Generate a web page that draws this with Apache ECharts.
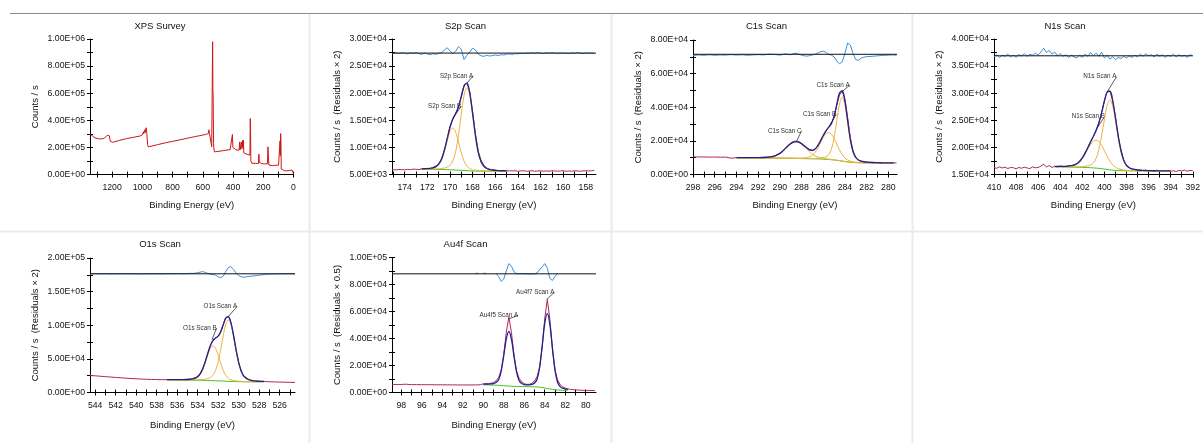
<!DOCTYPE html>
<html><head><meta charset="utf-8">
<script src="https://cdn.jsdelivr.net/npm/echarts@6/dist/echarts.min.js"></script>
<style>html,body{margin:0;padding:0;background:#fff}#c{width:1203px;height:443px}</style>
</head><body><div id="c"></div>
<script>
// ---------------- DATA ----------------
// Survey
const surveyEnergy = [1346,1330,1313,1290,1270,1250,1240,1232,1225,1218,1212,1205,1195,1150,1103,1060,1015,1000,993,990,985,980,975,970,965,960,900,850,794,750,700,650,618,580,563,559,556,545,541,538,535,533,531,529,527,523,500,460,419,408,404,401,396,380,360,356,353,348,345,341,337,335,331,329,310,291,288,286,284,282,276,250,232,229,226,210,190,172,169,166,163,161,140,120,99,92,89,87,85,83,81,77,60,44,25,10,5,2,0];
const surveyCounts = [298000,285000,270000,264000,262000,268000,275000,290000,300000,285000,245000,236000,238000,252000,265000,274000,284000,292000,315000,300000,330000,310000,345000,300000,220000,204000,220000,233000,246000,256000,268000,280000,287000,296000,302000,330000,304000,300000,205000,215000,980000,630000,540000,230000,195000,167000,170000,177000,184000,190000,295000,200000,186000,182000,180000,240000,182000,185000,240000,190000,250000,200000,253000,160000,150000,143000,160000,413000,330000,100000,83000,82000,81000,150000,90000,80000,78000,80000,204000,140000,70000,66000,65000,68000,69000,72000,248000,140000,302000,240000,40000,32000,28000,27000,30000,33000,37000,20000,7000];
const surveyLabelEnergies = [1200,1000,800,600,400,200,0];
const surveyTickEnergies = [1300,1200,1100,1000,900,800,700,600,500,400,300,200,100,0];
const surveyLabelCounts = [0,200000,400000,600000,800000,1000000];
const surveyTickCounts = [0,100000,200000,300000,400000,500000,600000,700000,800000,900000,1000000];

// S2p
const s2pEnergy = [175.1,174.75,174.5,174.25,174,173.75,173.5,173.25,173,172.75,172.5,172.25,172,171.75,171.5,171.25,171,170.75,170.5,170.25,170,169.75,169.5,169.25,169,168.75,168.5,168.25,168,167.75,167.5,167.25,167,166.75,166.5,166.25,166,165.75,165.5,165.25,165,164.75,164.5,164.25,164,163.75,163.5,163.25,163,162.75,162.5,162.25,162,161.75,161.5,161.25,161,160.75,160.5,160.25,160,159.75,159.5,159.25,159,158.75,158.5,158.25,158,157.75,157.5,157.25];
const s2pCounts = [5900,5850,5950,5900,5850,5950,5900,6000,5950,5900,6050,6000,6150,6100,6300,6550,6950,7850,9500,11500,13800,15200,16300,17400,19300,21500,21800,20200,16600,12500,9300,7600,6700,6200,6000,5850,5800,5750,5700,5750,5650,5700,5650,5700,5600,5650,5700,5600,5650,5700,5600,5650,5700,5600,5650,5600,5700,5650,5600,5650,5700,5600,5650,5600,5700,5650,5600,5650,5700,5650,5700,5750];
const s2pResidual = [27300,27450,27350,27500,27400,27250,27450,27350,27500,27300,27150,27400,27250,27100,27300,27150,27350,27500,27900,28400,27800,27300,27700,28600,28100,26200,27000,27600,28300,28000,27200,26900,26800,27000,26850,26950,27050,26950,27100,27050,27200,27250,27150,27300,27250,27350,27300,27400,27350,27450,27350,27500,27400,27300,27450,27350,27500,27400,27300,27450,27350,27400,27300,27450,27350,27500,27400,27300,27450,27350,27400,27300];
const s2pResidualZero = 27400;
const s2pFitEnergy = [172.5,172.25,172,171.75,171.5,171.25,171,170.75,170.5,170.25,170,169.75,169.5,169.25,169,168.75,168.5,168.25,168,167.75,167.5,167.25,167,166.75,166.5,166.25,166,165.75,165.5,165.25,165];
const s2pBackground = [5950,5948,5945,5942,5938,5933,5927,5920,5910,5895,5875,5850,5825,5800,5770,5735,5700,5670,5650,5638,5630,5626,5623,5621,5620,5619,5618,5617,5616,5615,5614];
const s2pPeakA = [5980,5990,5990,6000,6000,6030,6050,6100,6190,6350,6720,7530,9190,12230,16170,19660,21000,19590,16050,12060,9000,7310,6470,6080,5900,5800,5740,5710,5680,5680,5660];
const s2pPeakB = [6000,6010,6040,6080,6170,6360,6770,7610,9140,11130,12880,13550,12830,11040,9000,7430,6550,6090,5880,5780,5720,5690,5670,5650,5640,5640,5630,5630,5630,5630,5630];
const s2pEnvelope = [6030,6060,6080,6140,6230,6450,6900,7800,9420,11590,13720,15230,16200,17460,19410,21350,21850,20020,16290,12200,9090,7370,6510,6110,5920,5830,5760,5720,5690,5690,5680];
const s2pLabelEnergies = [174,172,170,168,166,164,162,160,158];
const s2pTickEnergies = [175,174,173,172,171,170,169,168,167,166,165,164,163,162,161,160,159,158];
const s2pLabelCounts = [5000,10000,15000,20000,25000,30000];
const s2pTickCounts = [5000,7500,10000,12500,15000,17500,20000,22500,25000,27500,30000];

// C1s
const c1sEnergy = [298,297.5,297,296.5,296,295.5,295,294.5,294,293.5,293,292.5,292,291.5,291,290.5,290,289.75,289.5,289.25,289,288.75,288.5,288.25,288,287.75,287.5,287.25,287,286.75,286.5,286.25,286,285.75,285.5,285.25,285,284.75,284.5,284.25,284,283.75,283.5,283.25,283,282.75,282.5,282.25,282,281.5,281,280.5,280,279.5,279.25];
const c1sCounts = [10500,10400,10450,10350,10400,10300,10350,9700,10000,10050,10000,10050,10100,10200,10500,11000,12400,13700,15600,17300,18700,19600,19900,19500,18600,17300,15900,14800,14400,15100,16900,19700,22800,25800,28200,30500,34300,41200,47300,49400,44800,34000,22000,13900,10000,8500,7900,7550,7400,7200,7100,7000,6950,6900,6850];
const c1sResidual = [70800,71100,70900,71200,70900,71100,71000,71300,71000,71200,70900,71100,71300,71100,71600,71400,71000,71300,71800,71400,71200,71900,72100,71500,71000,70600,70400,70700,71100,71500,72200,73000,73400,72700,71500,71000,70000,67500,65800,67000,72000,78200,77000,72000,68300,68000,69200,69800,70100,70300,70600,70800,71000,71100,70900];
const c1sResidualZero = 71500;
const c1sFitEnergy = [294,293.5,293,292.5,292,291.5,291,290.5,290,289.75,289.5,289.25,289,288.75,288.5,288.25,288,287.75,287.5,287.25,287,286.75,286.5,286.25,286,285.75,285.5,285.25,285,284.75,284.5,284.25,284,283.75,283.5,283.25,283,282.75,282.5,282.25,282,281.5,281,280.5,280,279.5];
const c1sBackground = [9900,9880,9860,9840,9820,9800,9780,9760,9740,9720,9700,9670,9640,9600,9560,9520,9480,9440,9400,9370,9340,9310,9270,9220,9150,9060,8950,8800,8620,8430,8200,7950,7700,7480,7300,7150,7050,6990,6950,6920,6900,6870,6840,6810,6780,6750];
const c1sPeakA = [9980,9960,9940,9920,9900,9880,9860,9840,9820,9800,9780,9750,9720,9680,9640,9600,9580,9550,9530,9520,9550,9580,9670,9750,9990,10500,11800,14880,21540,31990,42020,45950,41520,31040,20220,13230,9900,8430,7790,7450,7300,7080,6970,6910,6860,6830];
const c1sPeakB = [9930,9910,9890,9870,9850,9830,9810,9790,9770,9750,9730,9720,9700,9700,9690,9700,9720,9840,10040,10490,11420,13150,15670,18820,21950,24260,24950,24000,21420,18030,14600,11790,9780,8600,7940,7550,7290,7170,7080,7020,6960,6900,6870,6840,6810,6780];
const c1sPeakC = [9930,9910,9900,9900,9920,10000,10220,10840,12480,13740,15290,16820,18170,19110,19360,19030,18010,16590,14990,13390,12080,11070,10350,9960,9590,9350,9150,8950,8720,8510,8260,8000,7740,7510,7330,7180,7080,7020,6980,6950,6930,6900,6870,6840,6810,6780];
const c1sEnvelope = [10040,10020,10010,10010,10030,10100,10330,10950,12590,13850,15390,16950,18310,19280,19560,19280,18340,17110,15760,14660,14370,15180,17150,20090,23230,26000,28000,30230,34440,41670,48480,49840,43640,32190,20890,13660,10170,8640,7940,7580,7390,7140,7030,6970,6920,6890];
const c1sLabelEnergies = [298,296,294,292,290,288,286,284,282,280];
const c1sTickEnergies = [298,297,296,295,294,293,292,291,290,289,288,287,286,285,284,283,282,281,280];
const c1sLabelCounts = [0,20000,40000,60000,80000];
const c1sTickCounts = [0,10000,20000,30000,40000,50000,60000,70000,80000];

// N1s
const n1sEnergy = [410,409.75,409.5,409.25,409,408.75,408.5,408.25,408,407.75,407.5,407.25,407,406.75,406.5,406.25,406,405.75,405.5,405.25,405,404.75,404.5,404.25,404,403.75,403.5,403.25,403,402.75,402.5,402.25,402,401.75,401.5,401.25,401,400.75,400.5,400.25,400,399.75,399.5,399.25,399,398.75,398.5,398.25,398,397.75,397.5,397.25,397,396.75,396.5,396.25,396,395.75,395.5,395.25,395,394.75,394.5,394.25,394,393.75,393.5,393.25,393,392.75,392.5,392.25,392];
const n1sCounts = [16300,16150,16400,16200,16350,16100,16300,16250,16050,16300,16150,16350,16200,16100,16400,16250,16300,16550,16900,16400,16650,16300,16500,16350,16600,16400,16500,16650,16600,16800,16950,17500,18000,19000,19900,21100,22000,23200,24500,26500,28600,30300,30400,28500,25600,22000,19500,17600,16700,16300,16000,15900,15800,15850,15700,15800,15650,15750,15600,15800,15650,15700,15550,15750,15600,15700,15550,15750,15650,15800,15600,15750,15700];
const n1sResidual = [36700,37100,36600,37000,36800,37200,36700,37000,36600,37100,36900,37300,36800,37200,37000,37400,37000,37600,38300,37500,37900,37200,37600,36900,37300,36800,37100,36600,37000,36700,36500,37000,36600,37200,36800,37500,36900,37400,36800,37600,36500,37000,36300,36700,36200,36600,36400,36800,36500,36900,36600,37000,36700,37200,36800,37300,36900,37100,36700,37200,36800,37100,36600,37000,36800,37200,36700,37100,36800,37000,36600,37100,36900];
const n1sResidualZero = 36900;
const n1sFitEnergy = [404.5,404,403.5,403,402.75,402.5,402.25,402,401.75,401.5,401.25,401,400.75,400.5,400.25,400,399.75,399.5,399.25,399,398.75,398.5,398.25,398,397.75,397.5,397,396.5,396,395.5,395,394.5,394];
const n1sBackground = [16420,16400,16380,16360,16350,16340,16330,16320,16300,16280,16250,16220,16180,16130,16070,16000,15930,15860,15800,15760,15730,15710,15700,15690,15680,15670,15660,15650,15640,15630,15620,15610,15600];
const n1sPeakA = [16460,16440,16420,16410,16420,16420,16430,16460,16520,16590,16770,17120,17990,19610,22130,25160,27800,28760,27670,24920,21790,19190,17510,16590,16200,15980,15800,15730,15690,15670,15660,15650,15640];
const n1sPeakB = [16450,16450,16470,16590,16690,16910,17310,17920,18720,19680,20530,21160,21330,21070,20350,19400,18350,17460,16780,16330,16070,15940,15830,15780,15740,15720,15690,15670,15660,15650,15640,15630,15620];
const n1sEnvelope = [16490,16490,16510,16640,16750,16980,17410,18060,18940,19990,21040,22070,23140,24560,26410,28560,30220,30360,28650,25490,22130,19430,17640,16690,16260,16030,15830,15750,15710,15690,15680,15670,15660];
const n1sLabelEnergies = [410,408,406,404,402,400,398,396,394,392];
const n1sTickEnergies = [410,409,408,407,406,405,404,403,402,401,400,399,398,397,396,395,394,393,392];
const n1sLabelCounts = [15000,20000,25000,30000,35000,40000];
const n1sTickCounts = [15000,17500,20000,22500,25000,27500,30000,32500,35000,37500,40000];

// O1s
const o1sEnergy = [544.5,544,543.5,543,542.5,542,541.5,541,540.5,540,539.5,539,538.5,538,537.5,537,536.5,536,535.5,535,534.75,534.5,534.25,534,533.75,533.5,533.25,533,532.75,532.5,532.25,532,531.75,531.5,531.25,531,530.75,530.5,530.25,530,529.75,529.5,529,528.5,528,527.5,527,526.5,526,525.5,525,524.5];
const o1sCounts = [25300,24800,24200,23600,23000,22400,21900,21300,20800,20300,20000,19700,19400,19200,19000,19200,19100,19300,19200,19500,19900,20600,21800,24200,28500,35800,46500,58500,69500,77000,80500,83500,90500,101500,111500,113500,104000,85000,63000,44500,31500,24300,19200,17500,16800,16400,16000,15700,15500,15300,15100,15000];
const o1sResidual = [176300,176500,176400,176600,176300,176500,176400,176600,176400,176500,176300,176500,176400,176600,176400,176700,176500,176900,176600,176800,177200,177000,177500,178000,179000,179800,178500,177000,176000,175500,174500,172000,170500,173000,180000,186000,187000,183000,177500,174000,172000,171500,172500,173500,174500,175500,176000,176300,176500,176400,176600,176500];
const o1sResidualZero = 176500;
const o1sFitEnergy = [537,536.5,536,535.5,535,534.75,534.5,534.25,534,533.75,533.5,533.25,533,532.75,532.5,532.25,532,531.75,531.5,531.25,531,530.75,530.5,530.25,530,529.75,529.5,529,528.5,528,527.5];
const o1sBackground = [18800,18700,18600,18500,18400,18350,18300,18250,18200,18130,18060,17980,17880,17760,17620,17470,17320,17160,16980,16790,16600,16420,16270,16150,16060,16000,15960,15920,15890,15860,15830];
const o1sPeakA = [19070,18970,18870,18770,18670,18720,18760,18800,18840,19040,19250,19810,20620,22330,25840,32990,45620,63720,84540,101700,107900,101330,83830,62710,44360,31520,24180,18660,17080,16500,16290];
const o1sPeakB = [18960,18860,18860,18860,19070,19380,19850,20830,22840,26900,34060,44300,56060,65750,69220,65460,55500,43480,32980,25560,21240,19000,17820,17180,16730,16520,16320,16180,16050,16020,15990];
const o1sEnvelope = [19230,19130,19130,19140,19350,19750,20310,21380,23480,27820,35240,46120,58800,70310,77440,80980,83810,90040,100540,110470,112540,103910,85380,63750,45030,32040,24540,18920,17230,16650,16440];
const o1sLabelEnergies = [544,542,540,538,536,534,532,530,528,526];
const o1sTickEnergies = [544,543,542,541,540,539,538,537,536,535,534,533,532,531,530,529,528,527,526,525];
const o1sLabelCounts = [0,50000,100000,150000,200000];
const o1sTickCounts = [0,25000,50000,75000,100000,125000,150000,175000,200000];

// Au4f
const au4fEnergy = [98.9,98.5,98.25,98,97.75,97.5,97.25,97,96.5,96,95.5,95,94.5,94,93.5,93,92.5,92,91.5,91,90.75,90.5,90.25,90,89.75,89.5,89.25,89,88.75,88.5,88.25,88,87.75,87.5,87.25,87,86.75,86.5,86.25,86,85.75,85.5,85.25,85,84.75,84.5,84.25,84,83.75,83.5,83.25,83,82.75,82.5,82.25,82,81.75,81.5,81,80.5,80,79.5,79.1];
const au4fCounts = [6000,5950,5900,5950,6050,6150,5900,5850,5800,5800,5750,5750,5700,5700,5650,5650,5600,5600,5550,5600,5650,5600,5900,6350,6460,6560,6850,7450,8640,11070,16600,28120,44710,55790,44520,27760,16040,10520,8050,6500,6000,6100,6700,8600,11700,18680,33550,54880,69000,54130,32110,16740,9320,5900,4170,3250,2750,2300,1900,1700,1550,1450,1400];
const au4fResidualEnergy = [90.75,90.5,90.25,90,89.75,89.5,88.75,88.5,88.25,88,87.75,87.5,87.25,87,86.75,86.5,86,85.5,85,84.75,84.5,84.25,84,83.75,83.5,83.25,83,82.75];
const au4fResidual = [88300,88300,null,88300,88300,null,88100,86000,82300,84000,90000,95500,93500,89500,88000,88000,88000,87800,88000,88500,91000,93000,95500,92000,84500,83000,86000,88200];
const au4fResidualZero = 87900;
const au4fFitEnergy = [90,89.75,89.5,89.25,89,88.75,88.5,88.25,88,87.75,87.5,87.25,87,86.75,86.5,86.25,86,85.75,85.5,85.25,85,84.75,84.5,84.25,84,83.75,83.5,83.25,83,82.75,82.5,82.25,82,81.75];
const au4fBackground = [5700,5650,5600,5540,5480,5400,5300,5180,5040,4900,4760,4640,4550,4490,4450,4420,4390,4360,4320,4270,4200,4080,3900,3640,3300,2950,2600,2300,2060,1880,1750,1660,1600,1560];
const au4fEnvelope = [6150,6180,6210,6350,6660,7380,9500,15830,27370,39730,45250,39520,26970,15250,8810,6620,5900,5620,5650,6020,6980,9870,18530,34350,51190,58590,50450,32950,16610,7550,4370,3170,2610,2290];
const au4fLabelEnergies = [98,96,94,92,90,88,86,84,82,80];
const au4fTickEnergies = [98,97,96,95,94,93,92,91,90,89,88,87,86,85,84,83,82,81,80];
const au4fLabelCounts = [0,20000,40000,60000,80000,100000];
const au4fTickCounts = [0,10000,20000,30000,40000,50000,60000,70000,80000,90000,100000];

// Peak labels (text end anchor -> point on curve), in data units
const s2pNotes = [{text:'S2p Scan A', tx:167.95, ty:23200, px:168.5, py:21850},{text:'S2p Scan B', tx:169.0, ty:17600, px:169.7, py:15500}];
const c1sNotes = [{text:'C1s Scan A', tx:283.55, ty:53200, px:284.3, py:49000},{text:'C1s Scan B', tx:284.8, ty:35700, px:285.4, py:29400},{text:'C1s Scan C', tx:288.0, ty:26000, px:288.45, py:19700}];
const n1sNotes = [{text:'N1s Scan A', tx:398.9, ty:33050, px:399.7, py:30400},{text:'N1s Scan B', tx:399.95, ty:25800, px:400.65, py:23600}];
const o1sNotes = [{text:'O1s Scan A', tx:530.15, ty:128000, px:531.0, py:113000},{text:'O1s Scan B', tx:532.15, ty:95700, px:532.6, py:78500}];
const au4fNotes = [{text:'Au4f7 Scan A', tx:83.05, ty:74300, px:83.8, py:69000},{text:'Au4f5 Scan A', tx:86.6, ty:57000, px:87.55, py:54500}];

// ---------------- CHART ----------------
const FONT = "'Liberation Sans', Arial, Helvetica, sans-serif";
const C_RAW = '#b3245c', C_ENV = '#22228c', C_COMP = '#f0b040', C_BG = '#3cc41e', C_RES = '#3b8fdc';

function fmtE(v){
  if (v === 0) return '0.00E+00';
  let e = Math.floor(Math.log10(Math.abs(v)) + 1e-12);
  let m = v / Math.pow(10, e);
  if (Math.abs(m) >= 9.995) { m /= 10; e += 1; }
  return m.toFixed(2) + 'E' + (e < 0 ? '-' : '+') + String(Math.abs(e)).padStart(2, '0');
}
function pairs(xs, ys){ return xs.map((x, i) => [x, ys[i] === null ? '-' : ys[i]]); }

const panels = [
  {title:'XPS Survey', grid:{left:90,top:39,width:203.5,height:135.5}, tx:155, tt:16, xMin:0, xMax:1346, yMin:0, yMax:1000000,
   xl:surveyLabelEnergies, xt:surveyTickEnergies, yl:surveyLabelCounts, yt:surveyTickCounts, yName:'Counts / s', xGap:26},
  {title:'S2p Scan', grid:{left:392,top:39,width:204,height:135.5}, tx:460.5, tt:16, xMin:157.1, xMax:175.12, yMin:5000, yMax:30000,
   xl:s2pLabelEnergies, xt:s2pTickEnergies, yl:s2pLabelCounts, yt:s2pTickCounts, yName:'Counts / s  (Residuals \u00d7 2)', xGap:26},
  {title:'C1s Scan', grid:{left:693,top:40,width:204,height:134.5}, tx:761.5, tt:16, xMin:279.2, xMax:298, yMin:0, yMax:80000,
   xl:c1sLabelEnergies, xt:c1sTickEnergies, yl:c1sLabelCounts, yt:c1sTickCounts, yName:'Counts / s  (Residuals \u00d7 2)', xGap:26},
  {title:'N1s Scan', grid:{left:994,top:39,width:204.5,height:135.5}, tx:1060, tt:16, xMin:392, xMax:410, yMin:15000, yMax:40000,
   xl:n1sLabelEnergies, xt:n1sTickEnergies, yl:n1sLabelCounts, yt:n1sTickCounts, yName:'Counts / s  (Residuals \u00d7 2)', xGap:26},
  {title:'O1s Scan', grid:{left:90,top:258,width:205,height:134.5}, tx:155, tt:234, xMin:524.5, xMax:544.5, yMin:0, yMax:200000,
   xl:o1sLabelEnergies, xt:o1sTickEnergies, yl:o1sLabelCounts, yt:o1sTickCounts, yName:'Counts / s  (Residuals \u00d7 2)', xGap:28},
  {title:'Au4f Scan', grid:{left:392,top:257.5,width:204,height:135}, tx:460.5, tt:234, xMin:79, xMax:98.9, yMin:0, yMax:100000,
   xl:au4fLabelEnergies, xt:au4fTickEnergies, yl:au4fLabelCounts, yt:au4fTickCounts, yName:'Counts / s  (Residuals \u00d7 0.5)', xGap:28}
];

const labelStyle = {color:'#111', fontSize:8.7, fontFamily:FONT};
const nameStyle = {color:'#111', fontSize:9.5, fontFamily:FONT};
const grids = [], xAxes = [], yAxes = [], titles = [], series = [];

panels.forEach((p, gi) => {
  grids.push(Object.assign({containLabel:false}, p.grid));
  titles.push({text:p.title, left:p.tx, top:p.tt, textAlign:'center', textStyle:{color:'#111', fontSize:9.5, fontWeight:'normal', fontFamily:FONT}});
  xAxes.push({type:'value', gridIndex:gi, min:p.xMin, max:p.xMax, inverse:true, position:'bottom',
    axisLine:{show:true, onZero:false, lineStyle:{color:'#000', width:1}},
    axisTick:{show:true, customValues:p.xt, length:3, inside:false, lineStyle:{color:'#000'}},
    axisLabel:{show:true, customValues:p.xl, margin:8.5, formatter:(v)=>String(v), ...labelStyle},
    splitLine:{show:false},
    name:'Binding Energy (eV)', nameLocation:'middle', nameGap:p.xGap, nameTextStyle:nameStyle});
  xAxes.push({type:'value', gridIndex:gi, min:p.xMin, max:p.xMax, inverse:true, position:'bottom',
    axisLine:{show:false, onZero:false}, axisTick:{show:true, inside:true, customValues:p.xt, length:3, lineStyle:{color:'#000'}},
    axisLabel:{show:false}, splitLine:{show:false}});
  yAxes.push({type:'value', gridIndex:gi, min:p.yMin, max:p.yMax, position:'left',
    axisLine:{show:true, onZero:false, lineStyle:{color:'#000', width:1}},
    axisTick:{show:true, customValues:p.yt, length:3, inside:false, lineStyle:{color:'#000'}},
    axisLabel:{show:true, customValues:p.yl, margin:5, formatter:fmtE, ...labelStyle},
    splitLine:{show:false},
    name:p.yName, nameLocation:'middle', nameGap:50, nameTextStyle:nameStyle});
  yAxes.push({type:'value', gridIndex:gi, min:p.yMin, max:p.yMax, position:'left',
    axisLine:{show:false, onZero:false}, axisTick:{show:true, inside:true, customValues:p.yt, length:3, lineStyle:{color:'#000'}},
    axisLabel:{show:false}, splitLine:{show:false}});
});

function line(gi, data, color, width, z, extra){
  return Object.assign({type:'line', xAxisIndex:2*gi, yAxisIndex:2*gi, data:data, symbol:'none', showSymbol:false,
    lineStyle:{color:color, width:width}, itemStyle:{color:color}, z:z, silent:true, animation:false, connectNulls:false}, extra || {});
}
function notes(list){
  return {
    markLine:{silent:true, symbol:['none','none'], label:{show:false}, animation:false,
      lineStyle:{color:'#333', width:0.8, type:'solid'},
      data:list.map(a => [{coord:[a.tx, a.ty]}, {coord:[a.px, a.py]}])},
    markPoint:{silent:true, symbol:'circle', symbolSize:0, animation:false,
      label:{show:true, position:'left', distance:0, color:'#333', fontSize:6.3, fontFamily:FONT, formatter:'{b}'},
      data:list.map(a => ({name:a.text, coord:[a.tx, a.ty]}))}
  };
}

// Survey
series.push(line(0, pairs(surveyEnergy, surveyCounts), '#cc1616', 1, 3));

function scan(gi, d){
  const p = panels[gi];
  series.push(line(gi, pairs(d.resE, d.res), C_RES, 1, 2));
  series.push(line(gi, [[p.xMin, d.zero], [p.xMax, d.zero]], '#111', 1, 3));
  series.push(line(gi, pairs(d.E, d.raw), C_RAW, 1, 4));
  series.push(line(gi, pairs(d.fitE, d.bg), C_BG, 1, 5, {smooth:0.3}));
  d.comps.forEach(c => series.push(line(gi, pairs(d.fitE, c), C_COMP, 1, 5, {smooth:0.35})));
  series.push(line(gi, pairs(d.fitE, d.env), C_ENV, 1.3, 6, Object.assign({smooth:0.35}, notes(d.notes))));
}
scan(1, {E:s2pEnergy, raw:s2pCounts, resE:s2pEnergy, res:s2pResidual, zero:s2pResidualZero, fitE:s2pFitEnergy, bg:s2pBackground, comps:[s2pPeakA, s2pPeakB], env:s2pEnvelope, notes:s2pNotes});
scan(2, {E:c1sEnergy, raw:c1sCounts, resE:c1sEnergy, res:c1sResidual, zero:c1sResidualZero, fitE:c1sFitEnergy, bg:c1sBackground, comps:[c1sPeakA, c1sPeakB, c1sPeakC], env:c1sEnvelope, notes:c1sNotes});
scan(3, {E:n1sEnergy, raw:n1sCounts, resE:n1sEnergy, res:n1sResidual, zero:n1sResidualZero, fitE:n1sFitEnergy, bg:n1sBackground, comps:[n1sPeakA, n1sPeakB], env:n1sEnvelope, notes:n1sNotes});
scan(4, {E:o1sEnergy, raw:o1sCounts, resE:o1sEnergy, res:o1sResidual, zero:o1sResidualZero, fitE:o1sFitEnergy, bg:o1sBackground, comps:[o1sPeakA, o1sPeakB], env:o1sEnvelope, notes:o1sNotes});
scan(5, {E:au4fEnergy, raw:au4fCounts, resE:au4fResidualEnergy, res:au4fResidual, zero:au4fResidualZero, fitE:au4fFitEnergy, bg:au4fBackground, comps:[], env:au4fEnvelope, notes:au4fNotes});

const sep = {stroke:'#ebebeb', lineWidth:2};
const option = {
  backgroundColor:'#ffffff',
  animation:false,
  title:titles, grid:grids, xAxis:xAxes, yAxis:yAxes, series:series,
  graphic:[
    {type:'line', silent:true, shape:{x1:10, y1:13.5, x2:1203, y2:13.5}, style:{stroke:'#8a8a8a', lineWidth:1}},
    {type:'line', silent:true, shape:{x1:309.5, y1:14, x2:309.5, y2:443}, style:sep},
    {type:'line', silent:true, shape:{x1:611.5, y1:14, x2:611.5, y2:443}, style:sep},
    {type:'line', silent:true, shape:{x1:912.5, y1:14, x2:912.5, y2:443}, style:sep},
    {type:'line', silent:true, shape:{x1:0, y1:231.5, x2:1203, y2:231.5}, style:sep}
  ]
};
const chart = echarts.init(document.getElementById('c'), null, {renderer:'canvas'});
chart.setOption(option);
</script></body></html>
